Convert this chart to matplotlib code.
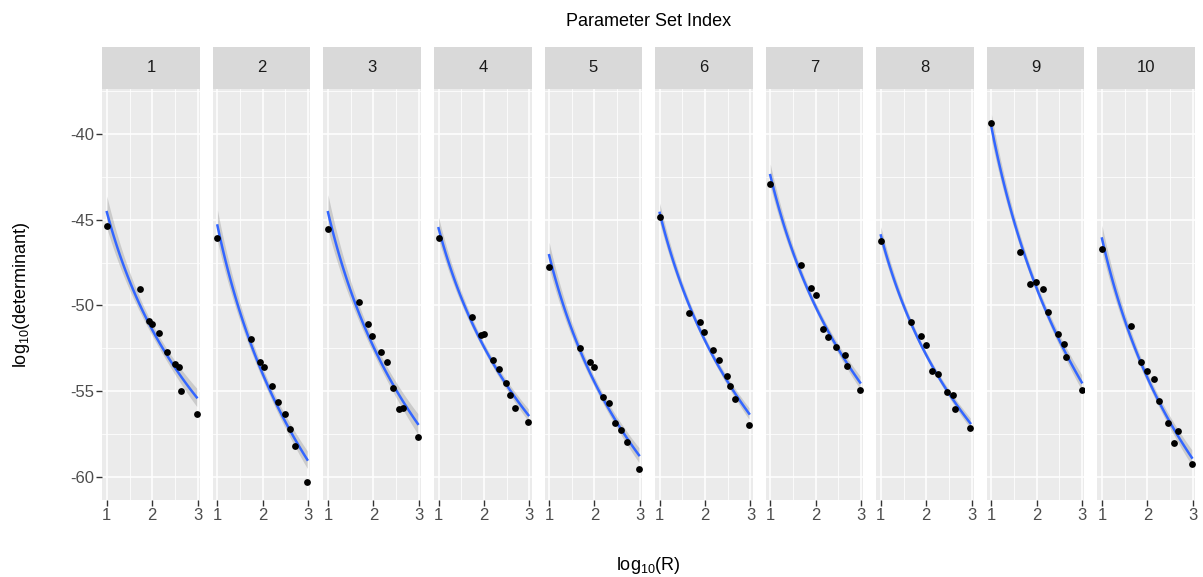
import numpy as np
import matplotlib
matplotlib.use("Agg")
import matplotlib.pyplot as plt

plt.rcParams['font.family'] = ['Liberation Sans', 'DejaVu Sans']
plt.rcParams['mathtext.default'] = 'regular'
plt.rcParams['axes.unicode_minus'] = False

panels = ['1', '2', '3', '4', '5', '6', '7', '8', '9', '10']
x1 = [1.0, 1.72, 1.92, 2.0, 2.15, 2.33, 2.5, 2.59, 2.64, 2.98]
y1 = [-45.35, -49.06, -50.9, -51.1, -51.6, -52.7, -53.4, -53.6, -55.0, -56.35]
x2 = [1.0, 1.74, 1.94, 2.02, 2.21, 2.33, 2.48, 2.6, 2.7, 2.98]
y2 = [-46.05, -51.97, -53.3, -53.6, -54.7, -55.6, -56.3, -57.2, -58.2, -60.3]
x3 = [1.0, 1.69, 1.89, 1.98, 2.17, 2.3, 2.43, 2.56, 2.66, 2.98]
y3 = [-45.54, -49.78, -51.1, -51.78, -52.69, -53.3, -54.8, -56.05, -56.0, -57.65]
x4 = [1.0, 1.73, 1.93, 2.0, 2.2, 2.33, 2.48, 2.57, 2.69, 2.98]
y4 = [-46.05, -50.7, -51.7, -51.68, -53.2, -53.7, -54.5, -55.2, -55.96, -56.77]
x5 = [1.0, 1.69, 1.9, 1.98, 2.19, 2.32, 2.46, 2.58, 2.71, 2.98]
y5 = [-47.77, -52.46, -53.28, -53.6, -55.35, -55.7, -56.87, -57.26, -57.98, -59.55]
x6 = [1.0, 1.64, 1.88, 1.97, 2.17, 2.3, 2.48, 2.55, 2.67, 2.97]
y6 = [-44.82, -50.42, -50.98, -51.56, -52.6, -53.18, -54.11, -54.7, -55.45, -56.97]
x7 = [1.0, 1.68, 1.89, 2.0, 2.16, 2.28, 2.45, 2.64, 2.69, 2.98]
y7 = [-42.92, -47.64, -48.96, -49.39, -51.37, -51.82, -52.4, -52.89, -53.53, -54.93]
x8 = [1.0, 1.67, 1.88, 1.99, 2.12, 2.27, 2.45, 2.58, 2.64, 2.97]
y8 = [-46.26, -50.98, -51.78, -52.3, -53.82, -53.99, -55.06, -55.2, -56.05, -57.16]
x9 = [1.0, 1.63, 1.84, 1.99, 2.14, 2.25, 2.46, 2.59, 2.65, 2.99]
y9 = [-39.34, -46.86, -48.77, -48.65, -49.06, -50.36, -51.66, -52.26, -52.98, -54.93]
x10 = [1.0, 1.65, 1.85, 1.99, 2.14, 2.26, 2.45, 2.58, 2.67, 2.98]
y10 = [-46.73, -51.2, -53.28, -53.8, -54.3, -55.55, -56.87, -58.04, -57.32, -59.24]

xs_all = [x1, x2, x3, x4, x5, x6, x7, x8, x9, x10]
ys_all = [y1, y2, y3, y4, y5, y6, y7, y8, y9, y10]


def log_smooth(x, y, grid, t=1.6):
    # lm(y ~ log(x)) with a confidence band
    x = np.asarray(x)
    y = np.asarray(y)
    X = np.column_stack([np.ones_like(x), np.log(x)])
    beta, *_ = np.linalg.lstsq(X, y, rcond=None)
    resid = y - X @ beta
    sigma2 = np.sum(resid ** 2) / (len(x) - 2)
    cov = sigma2 * np.linalg.inv(X.T @ X)
    G = np.column_stack([np.ones_like(grid), np.log(grid)])
    fit = G @ beta
    se = np.sqrt(np.einsum('ij,jk,ik->i', G, cov, G))
    return fit, fit - t * se, fit + t * se


fig = plt.figure(figsize=(12.03, 5.77), dpi=100)
W, H = 1203, 577
left, right = 102.3, 1195
gap = 13
pw = (right - left - 9 * gap) / 10
ptop, pbot = 89, 500
stop = 47

for i, lab in enumerate(panels):
    x0 = left + i * (pw + gap)
    ax = fig.add_axes([x0 / W, 1 - pbot / H, pw / W, (pbot - ptop) / H])
    ax.set_facecolor('#EBEBEB')
    for s in ax.spines.values():
        s.set_visible(False)
    ax.set_xlim(0.9, 3.05)
    ax.set_ylim(-61.34, -37.38)
    ax.set_xticks([1, 2, 3])
    ax.set_xticks([1.5, 2.5], minor=True)
    ax.set_yticks([-60, -55, -50, -45, -40])
    ax.set_yticks([-57.5, -52.5, -47.5, -42.5, -37.5], minor=True)
    ax.grid(which='major', color='white', lw=1.1)
    ax.grid(which='minor', color='white', lw=0.55)
    ax.set_axisbelow(True)
    ax.tick_params(which='minor', length=0)
    ax.tick_params(which='major', length=4, width=1, color='#333333',
                   labelsize=12, labelcolor='#4D4D4D', pad=2)
    if i > 0:
        ax.tick_params(axis='y', which='major', length=0, labelleft=False)

    xd = np.array(xs_all[i])
    yd = np.array(ys_all[i])
    grid = np.linspace(xd.min(), xd.max(), 80)
    fit, lo, hi = log_smooth(xd, yd, grid)
    ax.fill_between(grid, lo, hi, color='#999999', alpha=0.4, lw=0, zorder=2)
    ax.plot(grid, fit, color='#3366FF', lw=1.8, zorder=3)
    ax.scatter(xd, yd, s=24, color='black', zorder=4, lw=0)

    sax = fig.add_axes([x0 / W, 1 - ptop / H, pw / W, (ptop - stop) / H])
    sax.set_facecolor('#D9D9D9')
    sax.set_xticks([])
    sax.set_yticks([])
    for s in sax.spines.values():
        s.set_visible(False)
    sax.text(0.5, 0.5, lab, ha='center', va='center', fontsize=12,
             color='#1A1A1A', transform=sax.transAxes)

cx = (left + right) / 2 / W
fig.text(cx, 1 - 22 / H, 'Parameter Set Index', ha='center', va='center',
         fontsize=13)
fig.text(cx, 1 - 565 / H, 'log$_{10}$(R)', ha='center', va='center',
         fontsize=13)
fig.text(22 / W, 1 - (ptop + pbot) / 2 / H, 'log$_{10}$(determinant)',
         ha='center', va='center', rotation=90, fontsize=13)

fig.savefig('out.png', dpi=100)
